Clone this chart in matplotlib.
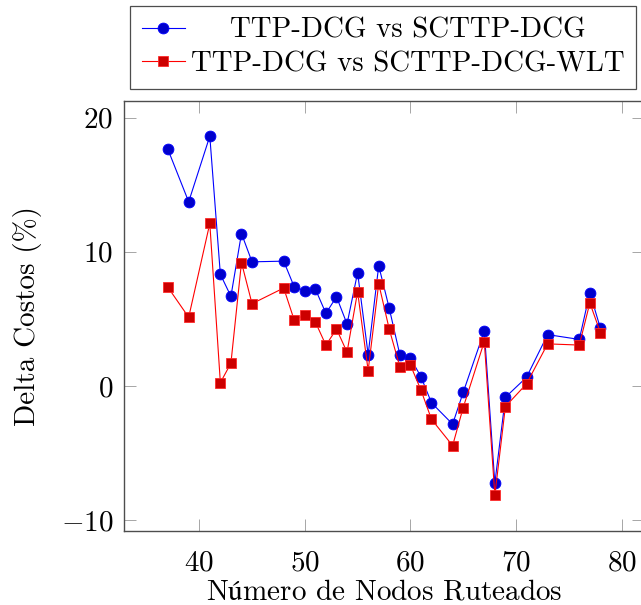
import matplotlib
matplotlib.use("Agg")
import matplotlib.pyplot as plt

# number of routed nodes
nodes = [37, 39, 41, 42, 43, 44, 45, 48, 49, 50, 51, 52, 53, 54, 55, 56,
         57, 58, 59, 60, 61, 62, 64, 65, 67, 68, 69, 71, 73, 76, 77, 78]

# delta cost (%) TTP-DCG vs SCTTP-DCG
delta_scttp = [17.69, 13.72, 18.61, 8.32, 6.68, 11.36, 9.25, 9.30, 7.38, 7.10, 7.22, 5.41,
               6.65, 4.62, 8.44, 2.34, 8.96, 5.78, 2.34, 2.09, 0.69, -1.25, -2.84, -0.48,
               4.10, -7.24, -0.84, 0.65, 3.83, 3.47, 6.95, 4.30]

# delta cost (%) TTP-DCG vs SCTTP-DCG-WLT
delta_wlt = [7.39, 5.12, 12.11, 0.25, 1.70, 9.20, 6.13, 7.30, 4.90, 5.30, 4.77, 3.04,
             4.25, 2.52, 7.03, 1.15, 7.62, 4.23, 1.44, 1.57, -0.30, -2.48, -4.44, -1.61,
             3.31, -8.13, -1.53, 0.16, 3.14, 3.05, 6.19, 3.98]

labels = ["TTP-DCG vs SCTTP-DCG", "TTP-DCG vs SCTTP-DCG-WLT"]

plt.rcParams["font.family"] = ["cmr10", "DejaVu Serif"]
plt.rcParams["mathtext.fontset"] = "cm"
plt.rcParams["axes.formatter.use_mathtext"] = True
plt.rcParams["font.size"] = 21

fig = plt.figure(figsize=(6.41, 6.05), dpi=100)
ax = fig.add_axes([0.1939, 0.1223, 0.8103, 0.7112])

ax.plot(nodes, delta_scttp, color="#0000ff", linewidth=0.8, marker="o", markersize=7.8,
        markerfacecolor="#0000cc", markeredgecolor="#0000ff", markeredgewidth=0.6, label=labels[0])
ax.plot(nodes, delta_wlt, color="#ff0000", linewidth=0.8, marker="s", markersize=7.8,
        markerfacecolor="#cc0000", markeredgecolor="#ff2a2a", markeredgewidth=0.6, label=labels[1])

ax.set_xlim(32.9, 82.1)
ax.set_ylim(-10.8, 21.25)
ax.set_xticks([40, 50, 60, 70, 80])
ax.set_yticks([-10, 0, 10, 20])

ax.tick_params(direction="in", length=8.4, width=0.7, color="0.65", top=True, right=True)
ax.tick_params(axis="x", pad=14)
ax.tick_params(axis="y", pad=8)
for s in ax.spines.values():
    s.set_color("0.3")
    s.set_linewidth(1.0)

# cmr10 has no accented glyphs, so the ú goes through mathtext
ax.set_xlabel(r"N$\mathrm{ú}$mero de Nodos Ruteados", labelpad=2)
ax.set_ylabel("Delta Costos (%)", labelpad=13)

leg = fig.legend(loc="upper left", bbox_to_anchor=(130 / 641, 1 - 6 / 605), borderaxespad=0,
                 fontsize=20.8, fancybox=False, framealpha=1, edgecolor="0.3", handlelength=1.5,
                 handletextpad=0.2, labelspacing=0.25, borderpad=0.4)
leg.get_frame().set_linewidth(0.9)

# center the shorter label in the legend column
fig.canvas.draw()
r = fig.canvas.get_renderer()
w0 = leg.texts[0].get_window_extent(r).width
w1 = leg.texts[1].get_window_extent(r).width
leg.texts[0].set_x((w1 - w0) / 2)

fig.savefig("out.png", dpi=100)
